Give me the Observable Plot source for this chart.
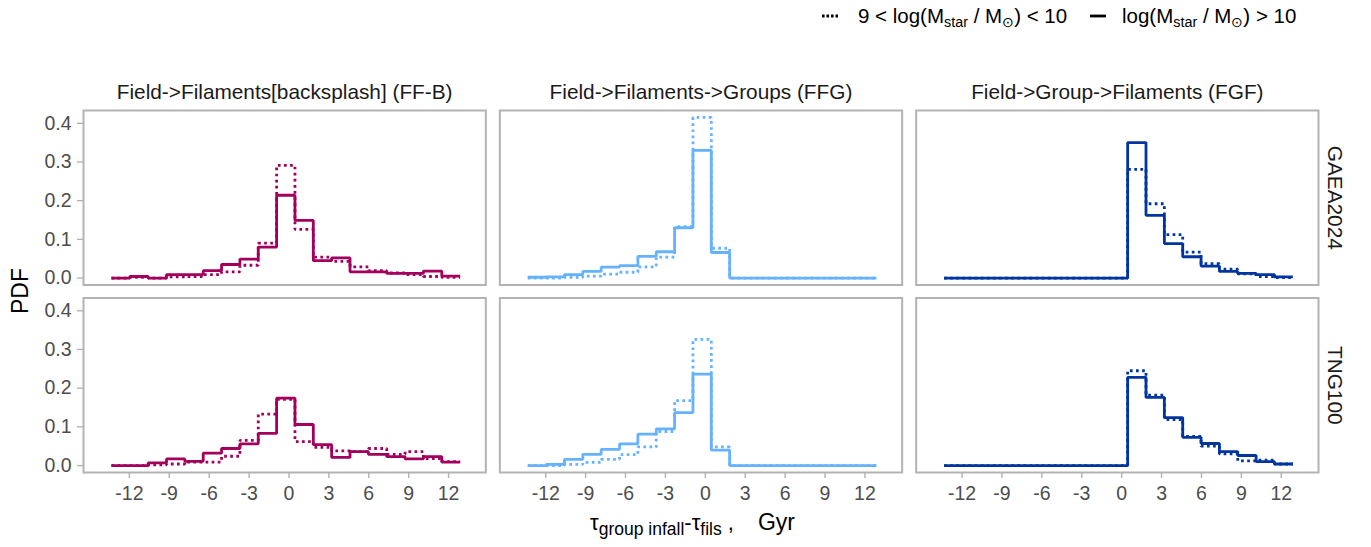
<!DOCTYPE html>
<html>
<head>
<meta charset="utf-8">
<script src="https://cdn.jsdelivr.net/npm/d3@7"></script>
<script src="https://cdn.jsdelivr.net/npm/@observablehq/plot@0.6"></script>
<style>
  body { margin: 0; background: #fff; font-family: "Liberation Sans", Arial, Helvetica, sans-serif; }
  #page { position: relative; width: 1371px; height: 547px; overflow: hidden; }
  #legend { position: relative; height: 40px; font-size: 20.5px; color: #000; }
  #legend .key { position: absolute; top: 9px; }
  #legend .txt { position: absolute; top: 4px; white-space: nowrap; line-height: 24px; }
  sub { font-size: 0.7em; vertical-align: -0.25em; line-height: 0; }
  #ylab { position: absolute; left: 20px; top: 291px; transform: translate(-50%, -50%) rotate(-90deg); font-size: 23px; color: #000; }
  #xlab { position: absolute; left: 590px; top: 507px; font-size: 22px; color: #000; white-space: nowrap; line-height: 30px; }
  #xlab sub { font-size: 17.5px; vertical-align: -0.3em; }
  #xlab .gap { display: inline-block; width: 24px; }
  #xlab .unit { font-size: 23px; }
</style>
</head>
<body>
<div id="page">
  <div id="legend">
    <svg class="key" style="left:820px" width="20" height="14"><line x1="2" x2="18" y1="7" y2="7" stroke="#000" stroke-width="2.8" stroke-dasharray="2.6,1.9"/></svg>
    <span class="txt" style="left:858px">9 &lt; log(M<sub>star</sub> / M<sub>⊙</sub>) &lt; 10</span>
    <svg class="key" style="left:1088px" width="20" height="14"><line x1="2" x2="18" y1="7" y2="7" stroke="#000" stroke-width="2.8"/></svg>
    <span class="txt" style="left:1122px">log(M<sub>star</sub> / M<sub>⊙</sub>) &gt; 10</span>
  </div>
  <div id="chart"></div>
  <div id="ylab">PDF</div>
  <div id="xlab">τ<sub>group infall</sub>-τ<sub>fils</sub> ,<span class="gap"></span><span class="unit">Gyr</span></div>
</div>
<script>
// Time between group infall and filament infall, binned (Gyr): bin edges
const binEdges = [-13.35, -11.97, -10.59, -9.21, -7.83, -6.45, -5.07, -3.69, -2.31, -0.93,
                   0.45, 1.83, 3.21, 4.59, 5.97, 7.35, 8.73, 10.11, 11.49, 12.87];

const simulations = ["GAEA2024", "TNG100"];
const pathways = [
  "Field->Filaments[backsplash] (FF-B)",
  "Field->Filaments->Groups (FFG)",
  "Field->Group->Filaments (FGF)"
];
const pathwayColors = ["#a2005c", "#66b2ff", "#0035a0"];
const massBins = ["low", "high"]; // 9 < log(M*/Msun) < 10 ; log(M*/Msun) > 10
const xTicks = [-12, -9, -6, -3, 0, 3, 6, 9, 12];
const yTicks = [0, 0.1, 0.2, 0.3, 0.4];

// PDF per bin (19 bins)
const gaeaFFB_low  = [0, 0.002, 0, 0.003, 0.004, 0.009, 0.016, 0.033, 0.090, 0.291, 0.126, 0.054, 0.043, 0.029, 0.019, 0.013, 0.009, 0.004, 0.002];
const gaeaFFB_high = [0, 0.004, 0, 0.009, 0.009, 0.019, 0.035, 0.049, 0.080, 0.214, 0.149, 0.045, 0.052, 0.016, 0.016, 0.012, 0.012, 0.018, 0.005];
const gaeaFFG_low  = [0, 0, 0.002, 0.005, 0.010, 0.015, 0.029, 0.054, 0.133, 0.415, 0.077, 0, 0, 0, 0, 0, 0, 0, 0];
const gaeaFFG_high = [0.002, 0.003, 0.009, 0.017, 0.028, 0.032, 0.056, 0.068, 0.130, 0.330, 0.066, 0, 0, 0, 0, 0, 0, 0, 0];
const gaeaFGF_low  = [0, 0, 0, 0, 0, 0, 0, 0, 0, 0, 0.281, 0.192, 0.112, 0.067, 0.037, 0.023, 0.011, 0.004, 0.001];
const gaeaFGF_high = [0, 0, 0, 0, 0, 0, 0, 0, 0, 0, 0.350, 0.162, 0.089, 0.055, 0.031, 0.017, 0.012, 0.009, 0.003];
const tngFFB_low   = [0, 0, 0.002, 0.004, 0.009, 0.009, 0.024, 0.065, 0.133, 0.171, 0.062, 0.047, 0.038, 0.036, 0.044, 0.029, 0.036, 0.018, 0.010];
const tngFFB_high  = [0, 0, 0.007, 0.017, 0.011, 0.032, 0.044, 0.056, 0.083, 0.174, 0.106, 0.054, 0.021, 0.036, 0.029, 0.023, 0.017, 0.023, 0.009];
const tngFFG_low   = [0, 0, 0.003, 0.008, 0.016, 0.028, 0.048, 0.088, 0.168, 0.326, 0.048, 0, 0, 0, 0, 0, 0, 0, 0];
const tngFFG_high  = [0, 0.003, 0.016, 0.029, 0.042, 0.056, 0.081, 0.095, 0.137, 0.236, 0.040, 0, 0, 0, 0, 0, 0, 0, 0];
const tngFGF_low   = [0, 0, 0, 0, 0, 0, 0, 0, 0, 0, 0.245, 0.182, 0.119, 0.075, 0.050, 0.030, 0.012, 0.014, 0.004];
const tngFGF_high  = [0, 0, 0, 0, 0, 0, 0, 0, 0, 0, 0.228, 0.176, 0.124, 0.073, 0.057, 0.036, 0.026, 0.010, 0.004];

const series = [
  [simulations[0], pathways[0], "low", gaeaFFB_low], [simulations[0], pathways[0], "high", gaeaFFB_high],
  [simulations[0], pathways[1], "low", gaeaFFG_low], [simulations[0], pathways[1], "high", gaeaFFG_high],
  [simulations[0], pathways[2], "low", gaeaFGF_low], [simulations[0], pathways[2], "high", gaeaFGF_high],
  [simulations[1], pathways[0], "low", tngFFB_low],  [simulations[1], pathways[0], "high", tngFFB_high],
  [simulations[1], pathways[1], "low", tngFFG_low],  [simulations[1], pathways[1], "high", tngFFG_high],
  [simulations[1], pathways[2], "low", tngFGF_low],  [simulations[1], pathways[2], "high", tngFGF_high]
];

// Each histogram becomes a step-after line: one point per left bin edge, plus the closing right edge
const rows = series.flatMap(([simulation, pathway, mass, values]) =>
  binEdges.map((t, i) => ({simulation, pathway, mass, t, pdf: values[Math.min(i, values.length - 1)]}))
);
const lowRows = rows.filter(d => d.mass === massBins[0]);
const highRows = rows.filter(d => d.mass === massBins[1]);

const lineStyle = {
  x: "t", y: "pdf", z: "pathway", fx: "pathway", fy: "simulation",
  stroke: "pathway", strokeWidth: 2.8, curve: "step-after",
  strokeLinecap: "butt", strokeLinejoin: "miter"
};

const chart = Plot.plot({
  width: 1371,
  height: 465,
  marginLeft: 83,
  marginRight: 53,
  marginTop: 70,
  marginBottom: 33,
  style: {fontFamily: '"Liberation Sans", Arial, Helvetica, sans-serif', fontSize: "19.5px", background: "#fff"},
  x: {domain: [-15.45, 14.8]},
  y: {domain: [-0.018, 0.433]},
  fx: {domain: pathways, paddingInner: 0.0337, paddingOuter: 0, round: false},
  fy: {domain: simulations, paddingInner: 0.0693, paddingOuter: 0, round: false},
  color: {domain: pathways, range: pathwayColors},
  marks: [
    Plot.frame({stroke: "#b3b3b3", strokeWidth: 2}),
    Plot.line(lowRows, {...lineStyle, strokeDasharray: "2.7,3.4"}),
    Plot.line(highRows, lineStyle),
    Plot.axisX({ticks: xTicks, tickFormat: d => String(d), tickSize: 6, tickPadding: 8,
                stroke: "#b3b3b3", strokeWidth: 1.4, fill: "#4d4d4d", fontSize: 19.5, label: null}),
    Plot.axisY({ticks: yTicks, tickFormat: d3.format(".1f"), tickSize: 6, tickPadding: 6,
                stroke: "#b3b3b3", strokeWidth: 1.4, fill: "#4d4d4d", fontSize: 19.5, label: null}),
    Plot.axisFx({anchor: "top", tickSize: 0, tickPadding: 12, fill: "#1a1a1a", fontSize: 20.8, label: null}),
    Plot.axisFy({anchor: "right", tickSize: 0, tickPadding: 24, tickRotate: 90, fill: "#1a1a1a", fontSize: 20.8, label: null})
  ]
});
document.getElementById("chart").append(chart);
</script>
</body>
</html>
